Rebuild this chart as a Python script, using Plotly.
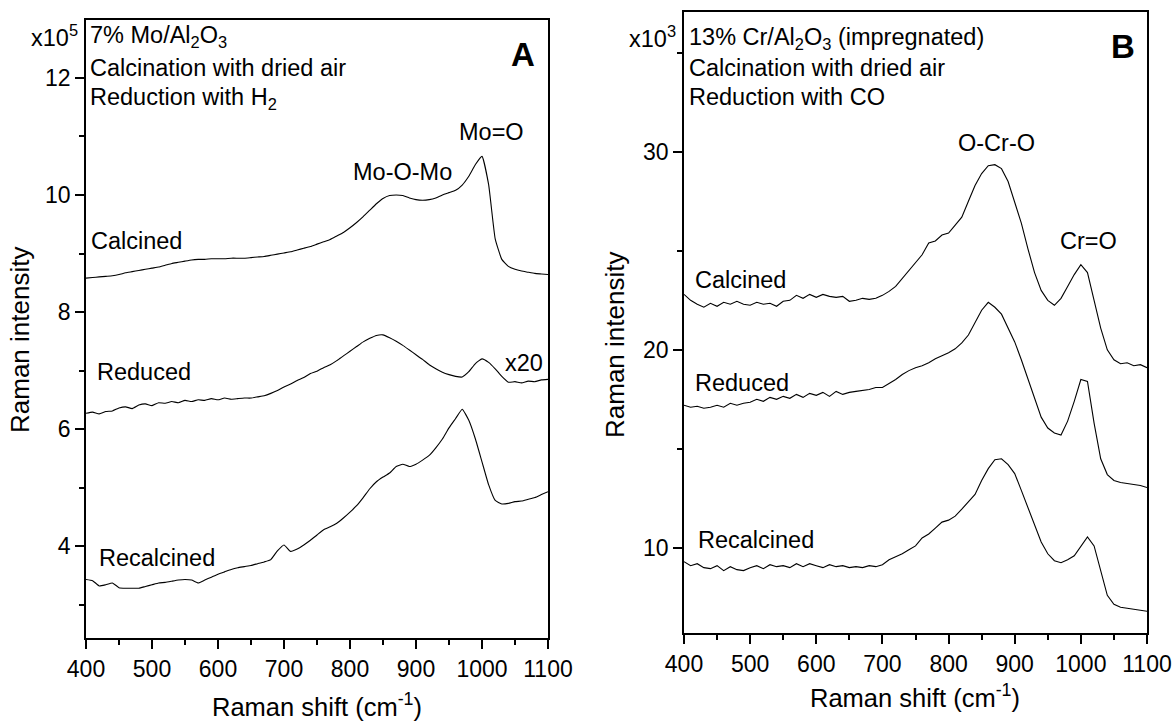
import plotly.graph_objects as go

# Raman shift grid (cm^-1)
shift = list(range(400, 1101, 10))

# Panel A: 7% Mo/Al2O3 (x10^5)
mo_calcined = [8.58, 8.59, 8.60, 8.61, 8.62, 8.64, 8.67, 8.69, 8.71, 8.73,
               8.75, 8.77, 8.80, 8.83, 8.85, 8.87, 8.89, 8.90, 8.90, 8.91,
               8.91, 8.91, 8.92, 8.92, 8.92, 8.93, 8.94, 8.95, 8.97, 8.99,
               9.01, 9.03, 9.06, 9.09, 9.12, 9.16, 9.20, 9.24, 9.30, 9.36,
               9.44, 9.53, 9.63, 9.74, 9.85, 9.94, 9.99, 10.00, 9.99, 9.95,
               9.92, 9.91, 9.92, 9.95, 10.00, 10.04, 10.08, 10.17, 10.32, 10.52,
               10.66, 10.18, 9.25, 8.90, 8.78, 8.73, 8.70, 8.68, 8.66, 8.65,
               8.64]
mo_reduced = [6.27, 6.29, 6.26, 6.30, 6.31, 6.36, 6.38, 6.35, 6.41, 6.43,
              6.40, 6.45, 6.44, 6.47, 6.45, 6.49, 6.47, 6.50, 6.49, 6.52,
              6.50, 6.53, 6.51, 6.52, 6.53, 6.53, 6.55, 6.57, 6.61, 6.66,
              6.72, 6.77, 6.83, 6.88, 6.95, 6.99, 7.05, 7.10, 7.17, 7.25,
              7.33, 7.41, 7.49, 7.55, 7.60, 7.61, 7.56, 7.50, 7.43, 7.35,
              7.27, 7.19, 7.10, 7.03, 6.97, 6.93, 6.90, 6.89, 6.98, 7.12,
              7.20, 7.14, 7.03, 6.90, 6.80, 6.81, 6.79, 6.82, 6.81, 6.84,
              6.85]
mo_recalcined = [3.43, 3.41, 3.32, 3.34, 3.37, 3.29, 3.28, 3.28, 3.28, 3.31,
                 3.34, 3.37, 3.38, 3.40, 3.42, 3.43, 3.42, 3.37, 3.42, 3.47,
                 3.52, 3.56, 3.60, 3.63, 3.65, 3.67, 3.70, 3.73, 3.77, 3.92,
                 4.02, 3.91, 3.95, 4.02, 4.10, 4.19, 4.28, 4.33, 4.39, 4.48,
                 4.58, 4.69, 4.83, 4.98, 5.10, 5.18, 5.25, 5.36, 5.40, 5.36,
                 5.40, 5.47, 5.55, 5.68, 5.83, 6.02, 6.18, 6.34, 6.15, 5.83,
                 5.44, 5.05, 4.78, 4.72, 4.73, 4.76, 4.77, 4.80, 4.83, 4.88,
                 4.93]

# Panel B: 13% Cr/Al2O3 (x10^3)
cr_calcined = [22.8, 22.5, 22.3, 22.15, 22.35, 22.2, 22.4, 22.3, 22.45, 22.3,
               22.25, 22.4, 22.3, 22.35, 22.2, 22.45, 22.5, 22.75, 22.6, 22.8,
               22.65, 22.8, 22.7, 22.65, 22.7, 22.45, 22.5, 22.6, 22.55, 22.6,
               22.75, 22.95, 23.2, 23.6, 24.0, 24.4, 24.8, 25.4, 25.5, 25.8,
               25.9, 26.3, 26.7, 27.5, 28.3, 28.9, 29.3, 29.35, 29.15, 28.5,
               27.5, 26.4, 25.1, 23.9, 23.0, 22.5, 22.25, 22.6, 23.2, 23.8,
               24.3, 23.9, 22.5, 21.1, 20.0, 19.5, 19.3, 19.35, 19.2, 19.25,
               19.1]
cr_reduced = [17.2, 17.1, 17.15, 17.05, 17.1, 17.2, 17.1, 17.3, 17.2, 17.3,
              17.35, 17.5, 17.4, 17.6, 17.5, 17.65, 17.55, 17.75, 17.6, 17.8,
              17.7, 17.85, 17.65, 17.9, 17.75, 17.85, 17.9, 17.95, 18.0, 18.1,
              18.1, 18.3, 18.5, 18.75, 18.95, 19.1, 19.2, 19.35, 19.55, 19.7,
              19.85, 20.05, 20.35, 20.75, 21.4, 22.0, 22.4, 22.15, 21.8, 21.1,
              20.4, 19.5, 18.5, 17.5, 16.6, 16.05, 15.8, 15.7, 16.4, 17.4,
              18.5, 18.4, 16.3, 14.5, 13.7, 13.4, 13.3, 13.25, 13.2, 13.15,
              13.05]
cr_recalcined = [9.3, 9.1, 9.2, 9.0, 8.95, 9.1, 8.85, 9.05, 8.9, 8.85,
                 9.0, 9.1, 8.95, 9.15, 9.05, 9.1, 9.0, 9.2, 9.05, 9.2,
                 9.1, 9.0, 9.15, 9.05, 9.1, 9.0, 9.05, 9.0, 9.1, 9.05,
                 9.15, 9.4, 9.55, 9.7, 9.9, 10.1, 10.5, 10.7, 11.0, 11.3,
                 11.4, 11.6, 11.95, 12.3, 12.7, 13.4, 14.0, 14.45, 14.5, 14.2,
                 13.75, 12.9, 12.0, 11.1, 10.3, 9.7, 9.35, 9.25, 9.4, 9.6,
                 10.1, 10.55, 10.1, 8.8, 7.6, 7.15, 7.0, 6.95, 6.9, 6.85,
                 6.8]

x_ticks = [400, 500, 600, 700, 800, 900, 1000, 1100]
a_y_ticks = [4, 6, 8, 10, 12]
b_y_ticks = [10, 20, 30]

FONT = "Liberation Sans, Arial, sans-serif"
W, H = 1174, 724

fig = go.Figure()
for ys in (mo_calcined, mo_reduced, mo_recalcined):
    fig.add_trace(go.Scatter(x=shift, y=ys, mode="lines",
                             line=dict(color="black", width=1.1, shape="spline", smoothing=0.4),
                             xaxis="x", yaxis="y", showlegend=False, hoverinfo="skip"))
for ys in (cr_calcined, cr_reduced, cr_recalcined):
    fig.add_trace(go.Scatter(x=shift, y=ys, mode="lines",
                             line=dict(color="black", width=1.1),
                             xaxis="x2", yaxis="y2", showlegend=False, hoverinfo="skip"))


def px_x(p):
    return p / W


def px_y(p):
    return 1 - p / H


axis_common = dict(showline=True, linecolor="black", linewidth=1.8, mirror=True,
                   ticks="outside", ticklen=9, tickwidth=1.5, tickcolor="black",
                   showgrid=False, zeroline=False, automargin=False,
                   tickfont=dict(family=FONT, size=23, color="black"))

xa = dict(axis_common, range=[400, 1100], tickvals=x_ticks,
          minor=dict(ticks="outside", ticklen=5, tickwidth=1.5, tickcolor="black",
                     tick0=450, dtick=100, showgrid=False))

fig.update_layout(
    template="none",
    width=W, height=H, autosize=False,
    margin=dict(l=0, r=0, t=0, b=0, pad=0),
    paper_bgcolor="white", plot_bgcolor="white",
    xaxis=dict(xa, domain=[px_x(86), px_x(548)], anchor="y"),
    yaxis=dict(axis_common, domain=[px_y(638), px_y(20)], anchor="x",
               range=[2.43, 12.99], tickvals=a_y_ticks,
               minor=dict(ticks="outside", ticklen=5, tickwidth=1.5, tickcolor="black",
                          tick0=3, dtick=2, showgrid=False)),
    xaxis2=dict(xa, domain=[px_x(684), px_x(1147)], anchor="y2"),
    yaxis2=dict(axis_common, domain=[px_y(633), px_y(12)], anchor="x2",
                range=[5.70, 37.06], tickvals=b_y_ticks,
                minor=dict(ticks="outside", ticklen=5, tickwidth=1.5, tickcolor="black",
                           tick0=5, dtick=10, showgrid=False)),
)

ann = []


def add(text, x, y, xref, yref, xanchor="center", yanchor="middle", size=23.5, angle=0):
    ann.append(dict(text=text, x=x, y=y, xref=xref, yref=yref, xanchor=xanchor,
                    yanchor=yanchor, showarrow=False, textangle=angle,
                    font=dict(family=FONT, size=size, color="black")))


# Panel A texts
add("x10<sup>5</sup>", px_x(80), px_y(36), "paper", "paper", xanchor="right")
add("7% Mo/Al<sub>2</sub>O<sub>3</sub>", px_x(88), px_y(37), "paper", "paper", xanchor="left")
add("Calcination with dried air", px_x(88), px_y(68), "paper", "paper", xanchor="left")
add("Reduction with H<sub>2</sub>", px_x(88), px_y(98), "paper", "paper", xanchor="left")
add("<b>A</b>", px_x(523), px_y(55), "paper", "paper", size=33)
add("Mo=O", 1015, 11.08, "x", "y")
add("Mo-O-Mo", 880, 10.40, "x", "y")
add("Calcined", 404, 9.21, "x", "y", xanchor="left")
add("Reduced", 414, 6.97, "x", "y", xanchor="left")
add("x20", 1064, 7.13, "x", "y")
add("Recalcined", 416, 3.80, "x", "y", xanchor="left")
add("Raman intensity", px_x(20), px_y(340), "paper", "paper", angle=-90, size=26)
add("Raman shift (cm<sup>-1</sup>)", px_x(317), px_y(705), "paper", "paper", size=25.5)

# Panel B texts
add("x10<sup>3</sup>", px_x(678), px_y(37), "paper", "paper", xanchor="right")
add("13% Cr/Al<sub>2</sub>O<sub>3</sub> (impregnated)", px_x(687), px_y(38), "paper", "paper", xanchor="left")
add("Calcination with dried air", px_x(687), px_y(68), "paper", "paper", xanchor="left")
add("Reduction with CO", px_x(687), px_y(97), "paper", "paper", xanchor="left")
add("<b>B</b>", px_x(1123), px_y(47), "paper", "paper", size=33)
add("O-Cr-O", 872, 30.42, "x2", "y2")
add("Cr=O", 1011, 25.5, "x2", "y2")
add("Calcined", 414, 23.55, "x2", "y2", xanchor="left")
add("Reduced", 414, 18.30, "x2", "y2", xanchor="left")
add("Recalcined", 418, 10.42, "x2", "y2", xanchor="left")
add("Raman intensity", px_x(615), px_y(345), "paper", "paper", angle=-90, size=26)
add("Raman shift (cm<sup>-1</sup>)", px_x(915), px_y(696), "paper", "paper", size=25.5)

fig.update_layout(annotations=ann)

fig.write_html("out.html", config={"displayModeBar": False},
               post_script="document.body.style.margin='0';")
